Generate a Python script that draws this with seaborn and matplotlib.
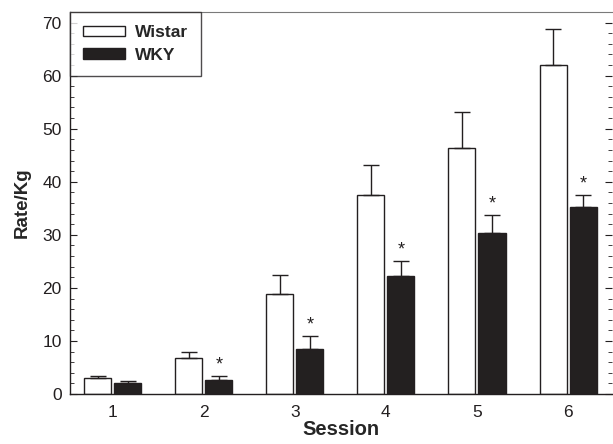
import numpy as np
import pandas as pd
import matplotlib
matplotlib.use("Agg")
import matplotlib.pyplot as plt
import seaborn as sns
from matplotlib.ticker import MultipleLocator

# valores
sessions = ["1", "2", "3", "4", "5", "6"]
wistar_mean = [3.0, 6.7, 18.9, 37.6, 46.4, 62.0]
wistar_err = [0.4, 1.3, 3.5, 5.6, 6.7, 6.7]
wky_mean = [2.0, 2.6, 8.5, 22.2, 30.3, 35.2]
wky_err = [0.4, 0.7, 2.4, 2.9, 3.5, 2.3]
signif = [False, True, True, True, True, True]
groups = ["Wistar", "WKY"]

df = pd.DataFrame({
    "Session": sessions * 2,
    "Rate": wistar_mean + wky_mean,
    "Group": [groups[0]] * len(sessions) + [groups[1]] * len(sessions),
})

sns.set_style("ticks")
plt.rcParams["font.family"] = ["Liberation Sans", "DejaVu Sans"]

fig = plt.figure(figsize=(6.13, 4.44), dpi=100)
ax = fig.add_axes([0.114, 0.1126, 0.884, 0.8604])

sns.barplot(data=df, x="Session", y="Rate", hue="Group", hue_order=groups,
            palette={"Wistar": "white", "WKY": "#231f20"},
            width=0.66, gap=0.1, errorbar=None, edgecolor="#231f20",
            linewidth=1.0, ax=ax)

# barras de erro (so para cima) a partir das posicoes das barras
bars = [p for p in ax.patches if p.get_height() > 0][:2 * len(sessions)]
means = wistar_mean + wky_mean
errs = wistar_err + wky_err
xs = [p.get_x() + p.get_width() / 2 for p in bars]
ax.errorbar(xs, means, yerr=[np.zeros(len(errs)), errs], fmt="none",
            ecolor="#231f20", elinewidth=1.0, capsize=5.5, capthick=1.0,
            zorder=1)

for i, s in enumerate(signif):
    if s:
        x = xs[len(sessions) + i]
        ax.text(x, wky_mean[i] + wky_err[i] + 0.5, "*", ha="center",
                va="bottom", fontsize=13, color="#231f20")

ax.set_ylim(0, 72)
ax.set_xlim(-0.47, 5.48)
ax.yaxis.set_major_locator(MultipleLocator(10))
ax.yaxis.set_minor_locator(MultipleLocator(2))
ax.tick_params(axis="y", which="major", direction="in", length=5,
               labelsize=12.5, right=True, colors="#231f20", pad=6)
ax.tick_params(axis="y", which="minor", direction="in", length=3, right=True,
               colors="#231f20")
ax.tick_params(axis="x", length=0, labelsize=12.5, pad=8, colors="#231f20")

for side in ["left", "bottom"]:
    ax.spines[side].set_color("#231f20")
    ax.spines[side].set_linewidth(1.0)
ax.spines["top"].set_color("#7a7a7a")
ax.spines["top"].set_visible(True)
ax.spines["right"].set_visible(False)

ax.set_xlabel("Session", fontsize=14.5, fontweight="bold", labelpad=0)
ax.set_ylabel("Rate/Kg", fontsize=13.5, fontweight="bold", labelpad=8)

leg = ax.legend(loc="upper left", borderaxespad=0, frameon=True,
                fancybox=False, handlelength=2.4, handleheight=0.55,
                handletextpad=0.6, prop={"weight": "bold", "size": 12.5},
                borderpad=0.75, labelspacing=0.45)
leg.get_frame().set_edgecolor("#231f20")
leg.get_frame().set_linewidth(1.0)

fig.savefig("out.png", dpi=100)
